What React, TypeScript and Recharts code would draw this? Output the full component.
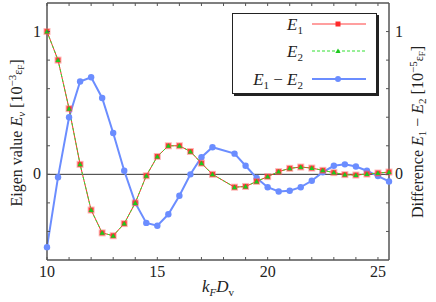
import React from 'react';
import { LineChart, Line, XAxis, YAxis, ReferenceLine, Legend, Label } from 'recharts';

// k_F D_v sample points (note: no sample at 18.0 in the source)
const kfDv = [
  10, 10.5, 11, 11.5, 12, 12.5, 13, 13.5, 14, 14.5, 15, 15.5, 16, 16.5, 17, 17.5,
  18.5, 19, 19.5, 20, 20.5, 21, 21.5, 22, 22.5, 23, 23.5, 24, 24.5, 25, 25.5,
];
// eigen values, units of 1e-3 eF
const eigen1 = [
  1.0, 0.8, 0.46, 0.07, -0.25, -0.41, -0.43, -0.345, -0.2, -0.01, 0.125, 0.2, 0.2, 0.16, 0.078, 0.0,
  -0.09, -0.085, -0.05, -0.016, 0.019, 0.042, 0.051, 0.044, 0.028, 0.012, -0.002, -0.005, 0.002, 0.009, 0.016,
];
const eigen2 = [
  1.0, 0.8, 0.46, 0.07, -0.25, -0.41, -0.43, -0.345, -0.2, -0.01, 0.125, 0.2, 0.2, 0.16, 0.078, 0.0,
  -0.09, -0.085, -0.05, -0.016, 0.019, 0.042, 0.051, 0.044, 0.028, 0.012, -0.002, -0.005, 0.002, 0.009, 0.016,
];
// difference, units of 1e-5 eF
const difference = [
  -0.51, -0.02, 0.4, 0.65, 0.68, 0.535, 0.29, 0.025, -0.2, -0.34, -0.36, -0.28, -0.15, 0.0, 0.12, 0.19,
  0.145, 0.06, -0.025, -0.09, -0.12, -0.115, -0.09, -0.045, 0.015, 0.06, 0.07, 0.055, 0.025, -0.012, -0.05,
];

const xTicks = [10, 11, 12, 13, 14, 15, 16, 17, 18, 19, 20, 21, 22, 23, 24, 25];
const xTickLabels = [10, 15, 20, 25];
const yTicks = [-0.4, -0.2, 0, 0.2, 0.4, 0.6, 0.8, 1];
const yTickLabels = [0, 1];

const data = kfDv.map((k, i) => ({
  k,
  e1: eigen1[i],
  e2: eigen2[i],
  diff: difference[i],
}));

const FONT = '"Liberation Serif", "DejaVu Serif", serif';
const FRAME = '#555';
const RED = '#ff2a2a';
const GREEN = '#33e033';
const BLUE = '#6b8dff';

const BottomTick = ({ x, y, payload }: any) => (
  <g>
    <line x1={x} x2={x} y1={y} y2={y - 3} stroke={FRAME} />
    {xTickLabels.includes(payload.value) && (
      <text x={x} y={y + 17} textAnchor="middle" fontFamily={FONT} fontSize={16} fill="#222">
        {payload.value}
      </text>
    )}
  </g>
);

const TopTick = ({ x, y }: any) => <line x1={x} x2={x} y1={y} y2={y + 3} stroke={FRAME} />;

const LeftTick = ({ x, y, payload }: any) => (
  <g>
    <line x1={x} x2={x + 3} y1={y} y2={y} stroke={FRAME} />
    {yTickLabels.includes(payload.value) && (
      <text x={x - 6} y={y + 5} textAnchor="end" fontFamily={FONT} fontSize={16} fill="#222">
        {payload.value}
      </text>
    )}
  </g>
);

const RightTick = ({ x, y, payload }: any) => (
  <g>
    <line x1={x} x2={x - 3} y1={y} y2={y} stroke={FRAME} />
    {yTickLabels.includes(payload.value) && (
      <text x={x + 6} y={y + 5} textAnchor="start" fontFamily={FONT} fontSize={16} fill="#222">
        {payload.value}
      </text>
    )}
  </g>
);

const SquareDot = ({ cx, cy, index }: any) => (
  <rect
    key={`sq-${index}`}
    x={cx - 2.5}
    y={cy - 2.5}
    width={5}
    height={5}
    fill={RED}
    stroke="rgba(255,90,90,0.45)"
    strokeWidth={2}
  />
);

const TriangleDot = ({ cx, cy, index }: any) => (
  <polygon
    key={`tr-${index}`}
    points={`${cx},${cy - 2.6} ${cx - 2.6},${cy + 2} ${cx + 2.6},${cy + 2}`}
    fill="#1ec81e"
  />
);

const CircleDot = ({ cx, cy, index }: any) => (
  <circle key={`ci-${index}`} cx={cx} cy={cy} r={3.2} fill={BLUE} />
);

const LeftAxisLabel = () => (
  <text transform="translate(22,133) rotate(-90)" textAnchor="middle" fontFamily={FONT} fontSize={16} fill="#222">
    Eigen value <tspan fontStyle="italic">E</tspan>
    <tspan fontStyle="italic" fontSize={11} dy={3}>ν</tspan>
    <tspan dy={-3}> [10</tspan>
    <tspan fontSize={11} dy={-6}>−3</tspan>
    <tspan fontSize={12} dy={6}>ε</tspan>
    <tspan fontSize={9} dy={2}>F</tspan>
    <tspan dy={-2}>]</tspan>
  </text>
);

const RightAxisLabel = () => (
  <text transform="translate(423,132) rotate(-90)" textAnchor="middle" fontFamily={FONT} fontSize={16} fill="#222">
    Difference <tspan fontStyle="italic">E</tspan>
    <tspan fontSize={11} dy={3}>1</tspan>
    <tspan dy={-3}> − </tspan>
    <tspan fontStyle="italic">E</tspan>
    <tspan fontSize={11} dy={3}>2</tspan>
    <tspan dy={-3}> [10</tspan>
    <tspan fontSize={11} dy={-6}>−5</tspan>
    <tspan fontSize={12} dy={6}>ε</tspan>
    <tspan fontSize={9} dy={2}>F</tspan>
    <tspan dy={-2}>]</tspan>
  </text>
);

const XAxisLabel = () => (
  <text x={218} y={292} textAnchor="middle" fontFamily={FONT} fontSize={17} fill="#222">
    <tspan fontStyle="italic">k</tspan>
    <tspan fontStyle="italic" fontSize={11} dy={4}>F</tspan>
    <tspan fontStyle="italic" dy={-4}>D</tspan>
    <tspan fontSize={11} dy={4}>v</tspan>
  </text>
);

const LegendBox = () => (
  <div
    style={{
      width: 145,
      height: 81,
      background: '#fff',
      border: '1px solid #222',
      boxShadow: '2px 2px 0 #222',
      boxSizing: 'border-box',
    }}
  >
    <svg width={143} height={79} style={{ display: 'block' }}>
      <g fontFamily={FONT} fontSize={17} fill="#222">
        <text x={70} y={16} textAnchor="end">
          <tspan fontStyle="italic">E</tspan>
          <tspan fontSize={11} dy={4}>1</tspan>
        </text>
        <text x={70} y={43} textAnchor="end">
          <tspan fontStyle="italic">E</tspan>
          <tspan fontSize={11} dy={4}>2</tspan>
        </text>
        <text x={70} y={71} textAnchor="end">
          <tspan fontStyle="italic">E</tspan>
          <tspan fontSize={11} dy={4}>1</tspan>
          <tspan dy={-4}> − </tspan>
          <tspan fontStyle="italic">E</tspan>
          <tspan fontSize={11} dy={4}>2</tspan>
        </text>
      </g>
      <line x1={79} x2={133} y1={10} y2={10} stroke={RED} strokeOpacity={0.6} strokeWidth={1.5} />
      <rect x={102.5} y={7.5} width={5} height={5} fill={RED} />
      <line x1={79} x2={133} y1={37} y2={37} stroke={GREEN} strokeWidth={1} strokeDasharray="3 2" />
      <polygon points="105,34.4 102.4,39 107.6,39" fill="#1ec81e" />
      <line x1={79} x2={133} y1={65} y2={65} stroke={BLUE} strokeWidth={2} />
      <circle cx={105} cy={65} r={3} fill={BLUE} />
    </svg>
  </div>
);

export default function App() {
  return (
    <div style={{ position: 'absolute', left: 0, top: 0, width: 436, height: 302, background: '#fff' }}>
      <LineChart width={436} height={302} data={data} margin={{ top: 2, right: 7, bottom: 12, left: 7 }}>
        <XAxis
          xAxisId="bottom"
          dataKey="k"
          type="number"
          domain={[10, 25.5]}
          ticks={xTicks}
          interval={0}
          height={30}
          tickSize={0}
          tickMargin={0}
          tickLine={false}
          tick={<BottomTick />}
          axisLine={{ stroke: FRAME, strokeWidth: 1.5 }}
        >
          <Label content={<XAxisLabel />} />
        </XAxis>
        <XAxis
          xAxisId="top"
          orientation="top"
          dataKey="k"
          type="number"
          domain={[10, 25.5]}
          ticks={xTicks}
          interval={0}
          height={1}
          tickSize={0}
          tickMargin={0}
          tickLine={false}
          tick={<TopTick />}
          axisLine={{ stroke: FRAME, strokeWidth: 1.5 }}
        />
        <YAxis
          yAxisId="left"
          type="number"
          domain={[-0.6, 1.2]}
          ticks={yTicks}
          interval={0}
          width={40}
          tickSize={0}
          tickMargin={0}
          tickLine={false}
          tick={<LeftTick />}
          axisLine={{ stroke: FRAME, strokeWidth: 1.5 }}
        >
          <Label content={<LeftAxisLabel />} />
        </YAxis>
        <YAxis
          yAxisId="right"
          orientation="right"
          type="number"
          domain={[-0.6, 1.2]}
          ticks={yTicks}
          interval={0}
          width={40}
          tickSize={0}
          tickMargin={0}
          tickLine={false}
          tick={<RightTick />}
          axisLine={{ stroke: FRAME, strokeWidth: 1.5 }}
        >
          <Label content={<RightAxisLabel />} />
        </YAxis>
        <ReferenceLine xAxisId="bottom" yAxisId="left" y={0} stroke="#333" strokeWidth={1} />
        <Legend
          layout="vertical"
          align="center"
          verticalAlign="middle"
          content={<LegendBox />}
          wrapperStyle={{ left: 232, top: 13, width: 147, height: 83 }}
        />
        <Line
          xAxisId="bottom"
          yAxisId="right"
          dataKey="diff"
          name="E1 - E2"
          stroke={BLUE}
          strokeWidth={2}
          dot={CircleDot}
          isAnimationActive={false}
        />
        <Line
          xAxisId="bottom"
          yAxisId="left"
          dataKey="e1"
          name="E1"
          stroke={RED}
          strokeWidth={1}
          dot={SquareDot}
          isAnimationActive={false}
        />
        <Line
          xAxisId="bottom"
          yAxisId="left"
          dataKey="e2"
          name="E2"
          stroke={GREEN}
          strokeWidth={1}
          strokeDasharray="3 2"
          dot={TriangleDot}
          isAnimationActive={false}
        />
      </LineChart>
    </div>
  );
}
